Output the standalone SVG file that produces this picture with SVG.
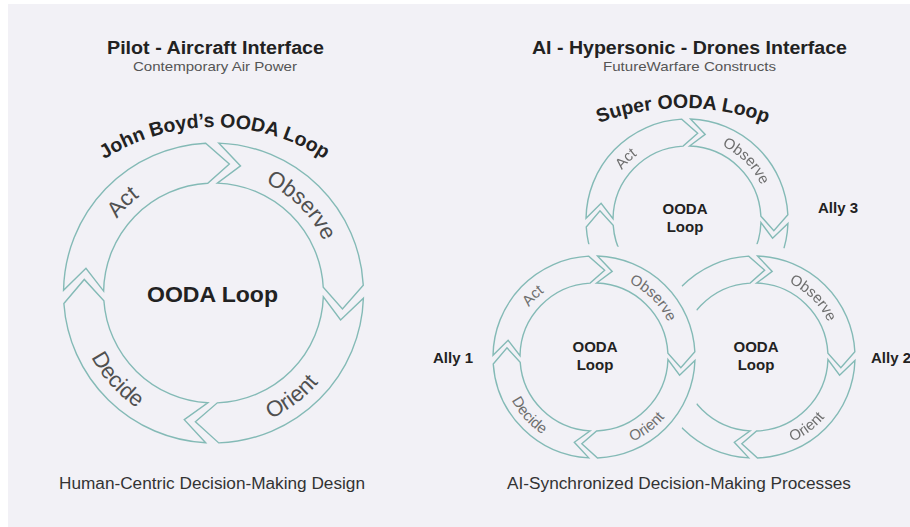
<svg xmlns="http://www.w3.org/2000/svg" width="910" height="527" viewBox="0 0 910 527">
<style>
.seg{fill:none;stroke:#84BAB6;stroke-width:1.4;vector-effect:non-scaling-stroke}
.t{font-family:"Liberation Sans",Arial,sans-serif}
.title{font-weight:bold;font-size:17.5px;fill:#222;text-anchor:middle}
.sub{font-size:13px;fill:#555;text-anchor:middle}
.cap{font-size:16px;fill:#333;text-anchor:middle}
.lbl{font-size:15px;fill:#6e6e6e}
.biglbl{fill:#505050}
.arct{font-weight:bold;font-size:19.5px;fill:#222}
.ctr{font-weight:bold;fill:#222;text-anchor:middle}
.ally{font-weight:bold;font-size:15px;fill:#222}
</style>
<defs>
<path id="sO" class="seg" d="M3.52,-100.94 A101,101 0 0,1 100.86,-5.28 L86.84,10.67 L73.90,-3.87 A74,74 0 0,0 2.58,-73.96 L18.19,-85.58 Z"/>
<path id="sR" class="seg" d="M100.94,3.52 A101,101 0 0,1 3.52,100.94 L-12.18,86.65 L2.58,73.96 A74,74 0 0,0 73.96,2.58 L85.58,18.19 Z"/>
<path id="sD" class="seg" d="M-5.28,100.86 A101,101 0 0,1 -100.76,7.05 L-87.02,-9.14 L-73.82,5.17 A74,74 0 0,0 -3.87,73.90 L-19.69,85.26 Z"/>
<path id="sA" class="seg" d="M-100.98,-1.77 A101,101 0 0,1 -5.28,-100.86 L10.67,-86.84 L-3.87,-73.90 A74,74 0 0,0 -73.99,-1.30 L-85.89,-16.70 Z"/>
<path id="aA" d="M-79.20,21.22 A82,82 0 0,1 21.22,-79.20"/>
<path id="aO" d="M-21.22,-79.20 A82,82 0 0,1 79.20,21.22"/>
<path id="aD" d="M-88.45,-28.74 A93,93 0 0,0 19.34,90.97"/>
<path id="aR" d="M-36.34,85.61 A93,93 0 0,0 92.30,-11.33"/>
<path id="arcJohn" d="M37.83,229 A204,204 0 0,1 391.17,229"/>
<path id="arcSuper" d="M511.9,178.9 A242,242 0 0,1 854.1,178.9"/>
<mask id="mBR" maskUnits="userSpaceOnUse" x="0" y="0" width="910" height="527">
<rect width="910" height="527" fill="#fff"/>
<circle cx="594" cy="357" r="113" fill="#000"/>
</mask>
<mask id="mTop" maskUnits="userSpaceOnUse" x="0" y="0" width="910" height="527">
<rect width="910" height="527" fill="#fff"/>
<circle cx="594" cy="357" r="113" fill="#000"/>
<circle cx="754" cy="357" r="113" fill="#000"/>
</mask>
</defs>

<rect width="910" height="527" fill="#fff"/>
<rect x="8" y="4" width="902" height="523" fill="#F2F1F6"/>

<g id="left-titles" class="t">
<text class="title" x="215.5" y="54" textLength="217" lengthAdjust="spacingAndGlyphs">Pilot - Aircraft Interface</text>
<text class="sub" x="215" y="71" textLength="164" lengthAdjust="spacingAndGlyphs">Contemporary Air Power</text>
</g>

<g id="right-titles" class="t">
<text class="title" x="689.5" y="54" textLength="315" lengthAdjust="spacingAndGlyphs">AI - Hypersonic - Drones Interface</text>
<text class="sub" x="689.5" y="71" textLength="173" lengthAdjust="spacingAndGlyphs">FutureWarfare Constructs</text>
</g>

<g id="boyd-loop">
<text class="t arct"><textPath href="#arcJohn" startOffset="50%" text-anchor="middle">John Boyd’s OODA Loop</textPath></text>
<g transform="translate(213.5,293) scale(1.485)">
<use href="#sA"/><use href="#sO"/><use href="#sR"/><use href="#sD"/>
<text class="t lbl biglbl"><textPath href="#aA" startOffset="50%" text-anchor="middle">Act</textPath></text>
<text class="t lbl biglbl"><textPath href="#aO" startOffset="50%" text-anchor="middle">Observe</textPath></text>
<text class="t lbl biglbl"><textPath href="#aR" startOffset="50%" text-anchor="middle">Orient</textPath></text>
<text class="t lbl biglbl"><textPath href="#aD" startOffset="50%" text-anchor="middle">Decide</textPath></text>
</g>
<text class="t ctr" x="212.5" y="302" font-size="22.5" textLength="131" lengthAdjust="spacingAndGlyphs">OODA Loop</text>
</g>

<g id="ally3-loop">
<text class="t arct"><textPath href="#arcSuper" startOffset="50%" text-anchor="middle">Super OODA Loop</textPath></text>
<g mask="url(#mTop)">
<g transform="translate(687,220)">
<use href="#sA"/><use href="#sO"/><use href="#sR"/><use href="#sD"/>
<text class="t lbl"><textPath href="#aA" startOffset="50%" text-anchor="middle">Act</textPath></text>
<text class="t lbl"><textPath href="#aO" startOffset="50%" text-anchor="middle">Observe</textPath></text>
</g>
</g>
<text class="t ctr" x="685" y="214" font-size="15">OODA</text>
<text class="t ctr" x="685" y="232" font-size="15">Loop</text>
<text class="t ally" x="818" y="213">Ally 3</text>
</g>

<g id="ally2-loop">
<g mask="url(#mBR)">
<g transform="translate(754,357)">
<use href="#sA"/><use href="#sO"/><use href="#sR"/><use href="#sD"/>
<text class="t lbl"><textPath href="#aO" startOffset="50%" text-anchor="middle">Observe</textPath></text>
<text class="t lbl"><textPath href="#aR" startOffset="50%" text-anchor="middle">Orient</textPath></text>
</g>
</g>
<text class="t ctr" x="756" y="352" font-size="15">OODA</text>
<text class="t ctr" x="756" y="370" font-size="15">Loop</text>
<text class="t ally" x="871" y="363">Ally 2</text>
</g>

<g id="ally1-loop">
<g transform="translate(594,357)">
<use href="#sA"/><use href="#sO"/><use href="#sR"/><use href="#sD"/>
<text class="t lbl"><textPath href="#aA" startOffset="50%" text-anchor="middle">Act</textPath></text>
<text class="t lbl"><textPath href="#aO" startOffset="50%" text-anchor="middle">Observe</textPath></text>
<text class="t lbl"><textPath href="#aR" startOffset="50%" text-anchor="middle">Orient</textPath></text>
<text class="t lbl"><textPath href="#aD" startOffset="50%" text-anchor="middle">Decide</textPath></text>
</g>
<text class="t ctr" x="595" y="352" font-size="15">OODA</text>
<text class="t ctr" x="595" y="370" font-size="15">Loop</text>
<text class="t ally" x="433" y="363">Ally 1</text>
</g>

<g id="captions" class="t">
<text class="cap" x="212" y="489" textLength="306" lengthAdjust="spacingAndGlyphs">Human-Centric Decision-Making Design</text>
<text class="cap" x="679" y="489" textLength="344" lengthAdjust="spacingAndGlyphs">AI-Synchronized Decision-Making Processes</text>
</g>
</svg>
